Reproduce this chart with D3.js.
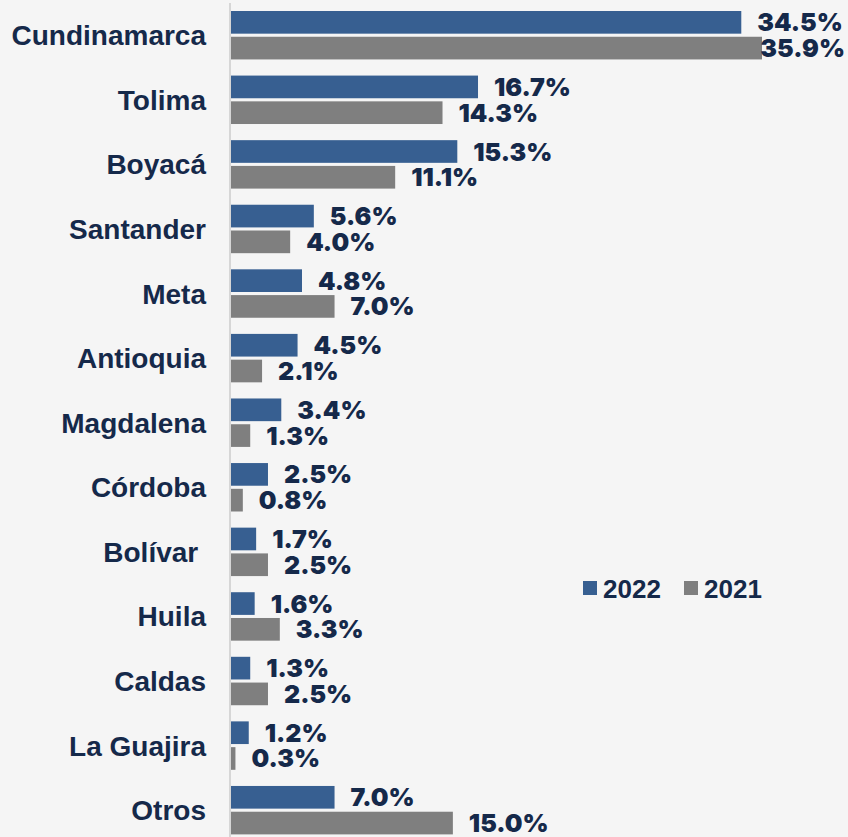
<!DOCTYPE html>
<html>
<head>
<meta charset="utf-8">
<script src="https://cdn.jsdelivr.net/npm/d3@7"></script>
<style>
  html, body { margin:0; padding:0; background:#f5f5f5; }
  svg { display:block; }
</style>
</head>
<body>
<div id="chart"></div>
<script>
// chart.js

const CATEGORIES = ["Cundinamarca","Tolima","Boyacá","Santander","Meta","Antioquia",
  "Magdalena","Córdoba","Bolívar ","Huila","Caldas","La Guajira","Otros"];
const SERIES = ["2022","2021"];
const VALUES_2022 = [34.5,16.7,15.3,5.6,4.8,4.5,3.4,2.5,1.7,1.6,1.3,1.2,7.0];
const VALUES_2021 = [35.9,14.3,11.1,4.0,7.0,2.1,1.3,0.8,2.5,3.3,2.5,0.3,15.0];

const COLOR = { "2022":"#375f91", "2021":"#7f7f7f" };
const TEXT  = "#15294a";

const W = 848, H = 837;
const axisX = 231;

const svg = d3.select("#chart").append("svg")
  .attr("width", W)
  .attr("height", H);

svg.append("rect").attr("width", W).attr("height", H).attr("fill", "#f5f5f5");

const rows = CATEGORIES.map((c, i) => ({
  cat: c,
  vals: [ { s:"2022", v:VALUES_2022[i] }, { s:"2021", v:VALUES_2021[i] } ]
}));

// band layout: step ~64.6px, bar group ~48.4px
const step = 64.58;
const y0 = d3.scaleBand()
  .domain(CATEGORIES)
  .range([11 - 0.125 * step, 11 - 0.125 * step + CATEGORIES.length * step])
  .paddingInner(0.25)
  .paddingOuter(0.125);

const y1 = d3.scaleBand()
  .domain(SERIES)
  .range([0, y0.bandwidth()])
  .paddingInner(0.12);

const x = d3.scaleLinear()
  .domain([0, 35.9])
  .range([axisX, 762]);

const g = svg.append("g");

const grp = g.selectAll("g.row")
  .data(rows)
  .enter()
  .append("g")
  .attr("class", "row")
  .attr("transform", d => `translate(0,${y0(d.cat)})`);

grp.selectAll("rect")
  .data(d => d.vals)
  .enter()
  .append("rect")
  .attr("x", x(0))
  .attr("y", d => y1(d.s))
  .attr("width", d => x(d.v) - x(0))
  .attr("height", y1.bandwidth())
  .attr("fill", d => COLOR[d.s]);

// value labels
grp.selectAll("text.val")
  .data(d => d.vals)
  .enter()
  .append("text")
  .attr("class", "val")
  .attr("y", d => y1(d.s) + y1.bandwidth() / 2 + 9)
  .style("font-family", "Inter, 'Open Sans', sans-serif")
  .style("font-weight", 900)
  .style("font-size", "25px")
  .style("fill", TEXT)
  .text(d => d.v.toFixed(1) + "%")
  .each(function(d) {
    const t = d3.select(this);
    const tw = this.getComputedTextLength();
    let px = x(d.v) + 16;
    if (px + tw > W - 3) px = W - 3 - tw;
    t.attr("x", px);
  });

// category labels
grp.append("text")
  .attr("x", 206)
  .attr("y", y0.bandwidth() / 2 + 10)
  .attr("text-anchor", "end")
  .style("white-space", "pre")
  .style("font-family", "'Liberation Sans', Arial, sans-serif")
  .style("font-weight", "bold")
  .style("font-size", "28px")
  .style("fill", TEXT)
  .text(d => d.cat);

// axis line
svg.append("line")
  .attr("x1", 230).attr("x2", 230)
  .attr("y1", 3).attr("y2", H)
  .attr("stroke", "#d6d6d6")
  .attr("stroke-width", 2);

// legend
const legend = svg.append("g").attr("transform", "translate(583,581)");
const legX = [0, 101];
SERIES.forEach((s, i) => {
  legend.append("rect")
    .attr("x", legX[i]).attr("y", 0)
    .attr("width", 14).attr("height", 14)
    .attr("fill", COLOR[s]);
  legend.append("text")
    .attr("x", legX[i] + 20)
    .attr("y", 16.5)
    .style("font-family", "'Liberation Sans', Arial, sans-serif")
    .style("font-weight", "bold")
    .style("font-size", "26px")
    .style("fill", TEXT)
    .text(s);
});
</script>
</body>
</html>
